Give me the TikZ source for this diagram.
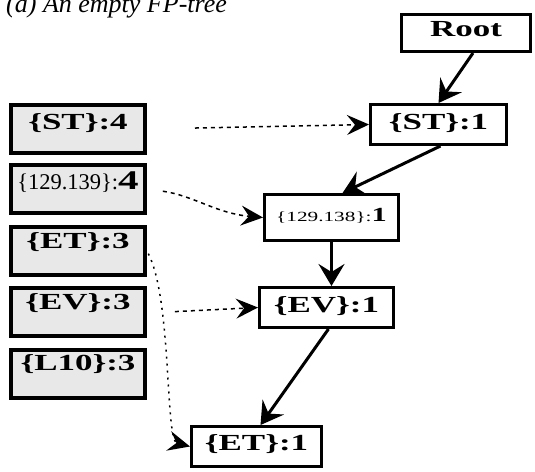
\documentclass[tikz,border=0pt]{standalone}
\usepackage{fontspec}
\setmainfont{Liberation Serif}
\newfontfamily\widefont[FakeStretch=1.52]{Liberation Serif}
\usetikzlibrary{arrows.meta}
\definecolor{cellgray}{gray}{0.91}
\newcommand*{\BoxFont}{\widefont\bfseries\fontsize{23}{23}\selectfont}
\newcommand*{\SmallKey}[1]{{\rmfamily\mdseries\fontsize{22.5}{22.5}\selectfont #1}}
\newcommand*{\TinyKey}[1]{{\mdseries\fontsize{14}{14}\selectfont #1}}

\begin{document}
\begin{tikzpicture}[x=1pt, y=-1pt,
    item/.style={draw, line width=4pt, fill=cellgray, minimum width=134pt,
        inner xsep=0pt, inner ysep=0pt, text height=21pt, text depth=27pt, font=\BoxFont},
    fpnode/.style={draw, line width=3pt, fill=white, minimum width=134pt,
        inner xsep=0pt, inner ysep=0pt, text height=25pt, text depth=15pt, font=\BoxFont},
    link/.style={line width=3pt, -{Stealth[length=22pt,width=26pt,inset=8pt]}},
    nodelink/.style={line width=1.5pt, dash pattern=on 4pt off 4pt,
        -{Stealth[length=22pt,width=20pt,inset=8pt]}}]
    \clip (0,0) rectangle (535,471);

    \node[anchor=base west, inner sep=0pt, font=\itshape\fontsize{26}{26}\selectfont]
        (caption) at (6,12.5) {(a) An empty FP-tree};

    % header table
    \node[item, text height=24pt, text depth=24pt] (hst)  at (78,129)   {\{ST\}:4};
    \node[item, text height=24pt, text depth=24pt] (hip)  at (78,189)
        {\SmallKey{\{129.139\}:}{\fontsize{27}{27}\selectfont 4}};
    \node[item] (het)  at (78,251)   {\{ET\}:3};
    \node[item] (hev)  at (78,312)   {\{EV\}:3};
    \node[item] (hl10) at (78,373.5) {\{L10\}:3};

    % tree
    \node[fpnode, minimum width=129pt, text height=21.5pt, text depth=15.5pt]
        (root) at (466,33) {Root};
    \node[fpnode, minimum width=136pt] (st)  at (438.5,124.5) {\{ST\}:1};
    \node[fpnode, text height=26.5pt, text depth=19.5pt] (ip) at (331.5,217.5)
        {\TinyKey{\{129.138\}:}{\fontsize{20}{20}\selectfont 1}};
    \node[fpnode] (ev) at (326.5,307.5) {\{EV\}:1};
    \node[fpnode, minimum width=130pt, text height=23.5pt, text depth=16.5pt]
        (et) at (256.5,446.5) {\{ET\}:1};

    \draw[link] ([xshift=7pt]root.south) -- (st.north);
    \draw[link] ([xshift=2pt]st.south) -- ([xshift=11pt]ip.north);
    \draw[link] (ip.south) -- (ip.south |- ev.north);
    \draw[link] ([xshift=2pt]ev.south) -- ([xshift=4pt]et.north);

    % node links
    \draw[nodelink, shorten <=48pt] (hst.east) -- (st.west);
    \draw[nodelink, shorten <=16pt] (hip.east) to[out=-8, in=175] (ip.west);
    \draw[nodelink, shorten <=28pt] ([yshift=-1pt]hev.east) -- (ev.west);
    \draw[nodelink, dash pattern=on 2pt off 5pt, shorten <=3pt]
        (het.east) .. controls (172,300) and (165,440) .. (et.west);
\end{tikzpicture}
\end{document}
